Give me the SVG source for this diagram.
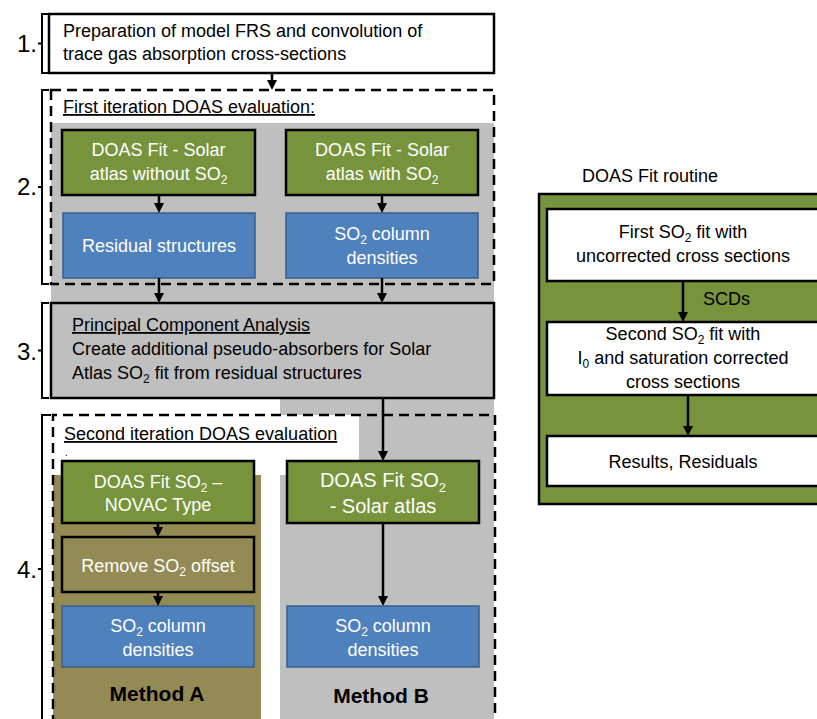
<svg xmlns="http://www.w3.org/2000/svg" width="817" height="719" viewBox="0 0 817 719">
<defs>
<style>
text{font-family:"Liberation Sans",Arial,sans-serif;font-size:18px;fill:#000}
.w{fill:#fff}
.c{text-anchor:middle}
.u{text-decoration:underline}
.lbl{font-size:24px;text-anchor:end}
.bold{font-weight:bold;font-size:21px}
.big{font-size:20px}
.s{font-size:12px}
.box{stroke:#000;stroke-width:2.5}
.green{fill:#77933c}
.blue{fill:#4f81bd;stroke:#385d8a;stroke-width:1.5}
.white{fill:#fff}
.dash{fill:none;stroke:#000;stroke-width:2.5;stroke-dasharray:10 6}
.br{fill:none;stroke:#000;stroke-width:2}
.con{fill:none;stroke:#000;stroke-width:2.5}
</style>
<marker id="ah" viewBox="0 0 10 10" refX="6" refY="5" markerWidth="10" markerHeight="10" markerUnits="userSpaceOnUse" orient="auto">
<path d="M0,0 L10,5 L0,10 z" fill="#000"/>
</marker>
</defs>

<!-- backgrounds -->
<g id="backgrounds">
<rect x="51" y="123" width="443" height="180" fill="#bfbfbf"/>
<rect x="280" y="398" width="214" height="321" fill="#bfbfbf"/>
<rect x="53" y="415" width="306" height="60" fill="#fff"/>
<rect x="53" y="475" width="208" height="244" fill="#948a54"/>
</g>

<!-- brackets and step labels -->
<g id="step1">
<path class="br" d="M49,14 H42 V73 H49 M42,43.5 H38"/>
<text class="lbl" x="37" y="52">1.</text>
</g>
<g id="step2">
<path class="br" d="M49,90 H42 V284 H49 M42,187 H38"/>
<text class="lbl" x="37" y="195">2.</text>
</g>
<g id="step3">
<path class="br" d="M49,303 H42 V398 H49 M42,350.5 H38"/>
<text class="lbl" x="37" y="360">3.</text>
</g>
<g id="step4">
<path class="br" d="M51,415 H42 V725 M42,569 H38"/>
<text class="lbl" x="37" y="578">4.</text>
</g>

<!-- node 1 -->
<g id="prep">
<rect class="box" x="49" y="14" width="445" height="59" fill="#fff"/>
<text x="63" y="37">Preparation of model FRS and convolution of</text>
<text x="63" y="60">trace gas absorption cross-sections</text>
</g>

<!-- first iteration -->
<g id="first-iteration">
<rect class="dash" x="51" y="90" width="443" height="194"/>
<text class="u" x="63" y="113">First iteration DOAS evaluation:</text>
</g>
<g id="fit-without">
<rect class="box green" x="62" y="130" width="193" height="65"/>
<text class="w c" x="158.5" y="156">DOAS Fit - Solar</text>
<text class="w c" x="158.5" y="180">atlas without SO<tspan class="s" dy="4">2</tspan></text>
</g>
<g id="fit-with">
<rect class="box green" x="286" y="130" width="192" height="65"/>
<text class="w c" x="382" y="156">DOAS Fit - Solar</text>
<text class="w c" x="382" y="180">atlas with SO<tspan class="s" dy="4">2</tspan></text>
</g>
<g id="residuals">
<rect class="blue" x="63" y="213" width="192" height="65"/>
<text class="w c" x="159" y="252">Residual structures</text>
</g>
<g id="scd1">
<rect class="blue" x="286" y="213" width="192" height="65"/>
<text class="w c" x="382" y="240">SO<tspan class="s" dy="4">2</tspan><tspan dy="-4"> column</tspan></text>
<text class="w c" x="382" y="264">densities</text>
</g>

<!-- PCA -->
<g id="pca">
<rect class="box" x="51" y="303" width="443" height="95" fill="#bfbfbf"/>
<text class="u" x="72" y="331">Principal Component Analysis</text>
<text x="72" y="355">Create additional pseudo-absorbers for Solar</text>
<text x="72" y="379">Atlas SO<tspan class="s" dy="4">2</tspan><tspan dy="-4"> fit from residual structures</tspan></text>
</g>

<!-- second iteration -->
<g id="second-iteration">
<path class="dash" d="M53,725 V415 H495 V725"/>
<text class="u" x="64" y="440">Second iteration DOAS evaluation</text>
<text x="65" y="456" style="font-size:10px">.</text>
</g>
<g id="fit-novac">
<rect class="box green" x="62" y="461" width="192" height="62"/>
<text class="w c" x="158" y="488">DOAS Fit SO<tspan class="s" dy="4">2</tspan><tspan dy="-4"> –</tspan></text>
<text class="w c" x="158" y="511">NOVAC Type</text>
</g>
<g id="remove-offset">
<rect class="box" x="62" y="537" width="192" height="55" fill="#948a54"/>
<text class="w c" x="158" y="572">Remove SO<tspan class="s" dy="4">2</tspan><tspan dy="-4"> offset</tspan></text>
</g>
<g id="scd-a">
<rect class="blue" x="62" y="606" width="192" height="61"/>
<text class="w c" x="158" y="632">SO<tspan class="s" dy="4">2</tspan><tspan dy="-4"> column</tspan></text>
<text class="w c" x="158" y="656">densities</text>
</g>
<g id="method-a">
<text class="bold c" x="157" y="701">Method A</text>
</g>
<g id="fit-solar">
<rect class="box green" x="287" y="461" width="192" height="62"/>
<text class="w c big" x="383" y="487">DOAS Fit SO<tspan class="s" dy="5" style="font-size:13px">2</tspan></text>
<text class="w c big" x="383" y="513">- Solar atlas</text>
</g>
<g id="scd-b">
<rect class="blue" x="287" y="606" width="192" height="61"/>
<text class="w c" x="383" y="632">SO<tspan class="s" dy="4">2</tspan><tspan dy="-4"> column</tspan></text>
<text class="w c" x="383" y="656">densities</text>
</g>
<g id="method-b">
<text class="bold c" x="381" y="703">Method B</text>
</g>

<!-- DOAS fit routine panel -->
<g id="routine">
<text x="582" y="182">DOAS Fit routine</text>
<rect class="box green" x="539" y="194" width="290" height="310"/>
</g>
<g id="first-fit">
<rect class="box white" x="547" y="209" width="280" height="72"/>
<text class="c" x="683" y="238">First SO<tspan class="s" dy="4">2</tspan><tspan dy="-4"> fit with</tspan></text>
<text class="c" x="683" y="262">uncorrected cross sections</text>
</g>
<g id="second-fit">
<rect class="box white" x="547" y="322" width="280" height="73"/>
<text class="c" x="683" y="340">Second SO<tspan class="s" dy="4">2</tspan><tspan dy="-4"> fit with</tspan></text>
<text class="c" x="683" y="364">I<tspan class="s" dy="4">0</tspan><tspan dy="-4"> and saturation corrected</tspan></text>
<text class="c" x="683" y="388">cross sections</text>
</g>
<g id="results">
<rect class="box white" x="547" y="436" width="280" height="50"/>
<text class="c" x="683" y="468">Results, Residuals</text>
</g>

<!-- connectors -->
<g id="connectors">
<path class="con" marker-end="url(#ah)" d="M272,73 V86"/>
<path class="con" marker-end="url(#ah)" d="M159,195 V209"/>
<path class="con" marker-end="url(#ah)" d="M382,195 V209"/>
<path class="con" marker-end="url(#ah)" d="M159,278 V299"/>
<path class="con" marker-end="url(#ah)" d="M382,278 V299"/>
<path class="con" marker-end="url(#ah)" d="M383,398 V457"/>
<path class="con" marker-end="url(#ah)" d="M158,523 V533"/>
<path class="con" marker-end="url(#ah)" d="M158,592 V602"/>
<path class="con" marker-end="url(#ah)" d="M383,523 V602"/>
<path class="con" marker-end="url(#ah)" d="M683,281 V318"/>
<text x="703" y="305">SCDs</text>
<path class="con" marker-end="url(#ah)" d="M688,395 V432"/>
</g>
</svg>
